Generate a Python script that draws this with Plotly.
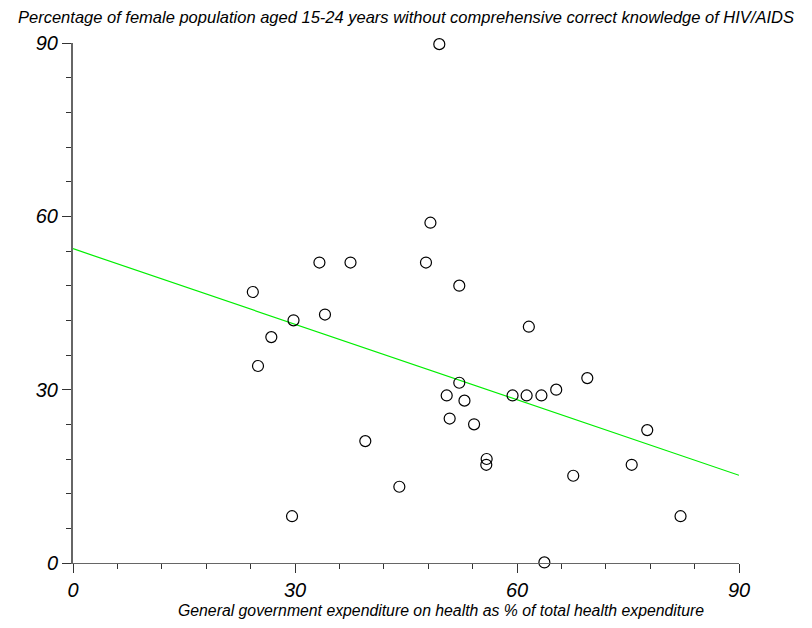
import numpy as np
import plotly.graph_objects as go

gov_health_exp = [24.3, 25.0, 26.8, 29.8, 29.6, 33.3, 34.05, 37.5, 39.5, 44.1,
                  47.7, 48.3, 49.5, 50.5, 50.9, 52.2, 52.2, 52.9, 54.2, 55.85,
                  55.9, 59.4, 61.3, 61.6, 63.3, 63.7, 65.3, 67.6, 69.5, 75.5,
                  77.6, 82.1]
no_hiv_knowledge = [46.9, 34.1, 39.1, 42.0, 8.1, 52.0, 43.0, 52.0, 21.1, 13.2,
                    52.0, 58.9, 89.8, 29.0, 25.0, 31.2, 48.0, 28.1, 24.0, 17.0,
                    18.0, 29.0, 29.0, 40.9, 29.0, 0.1, 30.0, 15.1, 32.0, 17.0,
                    23.0, 8.1]
trend_x = [0, 90]
x_ticks = [0, 30, 60, 90]
y_ticks = [0, 30, 60, 90]

slope, intercept = np.polyfit(gov_health_exp, no_hiv_knowledge, 1)
trend_y = [intercept + slope * v for v in trend_x]

FONT = "Liberation Sans"
W, H = 796, 612  # page body has an 8px margin

fig = go.Figure()
fig.add_trace(go.Scatter(x=trend_x, y=trend_y, mode="lines",
                         line=dict(color="#00ee00", width=1.2),
                         hoverinfo="skip", cliponaxis=False))
fig.add_trace(go.Scatter(x=gov_health_exp, y=no_hiv_knowledge, mode="markers",
                         marker=dict(symbol="circle-open", size=11,
                                     color="black", line=dict(width=1.2)),
                         cliponaxis=False))

axis_common = dict(range=[0, 90], showgrid=False, zeroline=False,
                   tickmode="array", tickvals=x_ticks, ticks="outside",
                   ticklen=9, tickwidth=1, tickcolor="#333",
                   showline=True, linecolor="#666",
                   tickfont=dict(family=FONT, size=20, color="black", style="italic"),
                   minor=dict(dtick=6, ticks="outside", ticklen=5,
                              tickcolor="#333", tickwidth=1))

fig.update_xaxes(**axis_common, linewidth=1)
fig.update_yaxes(**{**axis_common, "tickvals": y_ticks}, linewidth=2)

L, T = 65, 35
PW, PH = 666, 520
fig.update_layout(
    width=W, height=H,
    margin=dict(l=L, r=W - L - PW, t=T, b=H - T - PH),
    paper_bgcolor="white", plot_bgcolor="white",
    showlegend=False,
    title=dict(text="Percentage of female population aged 15-24 years without comprehensive correct knowledge of HIV/AIDS",
               x=0.5, xanchor="center", y=1 - 3 / H, yanchor="top",
               font=dict(family=FONT, size=16.5, color="black", style="italic")),
    annotations=[dict(text="General government expenditure on health as % of total health expenditure",
                      xref="paper", yref="paper", x=(433 - L) / PW, y=-(602 - T - PH) / PH,
                      xanchor="center", yanchor="middle", showarrow=False,
                      font=dict(family=FONT, size=15.8, color="black", style="italic"))],
)

fig.write_html("out.html")
